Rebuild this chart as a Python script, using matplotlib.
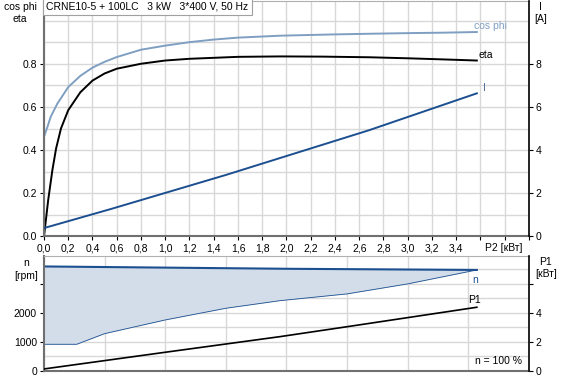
import numpy as np
import matplotlib.pyplot as plt

plt.rcParams['font.family'] = ['Liberation Sans', 'DejaVu Sans']
plt.rcParams['font.size'] = 7.5

# --- data ---
title = "CRNE10-5 + 100LC   3 kW   3*400 V, 50 Hz"

cos_p2 = [0.0, 0.03, 0.055, 0.11, 0.2, 0.3, 0.4, 0.5, 0.6, 0.8, 1.0, 1.2, 1.4,
          1.6, 1.95, 2.4, 2.69, 3.02, 3.3, 3.57]
cos_phi = [0.462, 0.51, 0.554, 0.615, 0.692, 0.744, 0.782, 0.809, 0.831, 0.865, 0.884,
           0.90, 0.912, 0.921, 0.93, 0.936, 0.939, 0.942, 0.944, 0.947]

eta_p2 = [0.0, 0.035, 0.07, 0.10, 0.14, 0.2, 0.3, 0.4, 0.5, 0.6, 0.8, 1.0, 1.2,
          1.6, 1.95, 2.3, 2.69, 3.02, 3.3, 3.57]
eta = [0.0, 0.17, 0.31, 0.408, 0.50, 0.585, 0.668, 0.722, 0.755, 0.777, 0.80, 0.815,
       0.823, 0.832, 0.834, 0.833, 0.830, 0.825, 0.82, 0.815]

i_p2 = [0.0, 0.55, 1.5, 2.68, 3.57]
current = [0.39, 1.27, 2.85, 4.92, 6.63]

nmax_p2 = [0.0, 1.0, 2.0, 3.57]
n_max = [3590, 3550, 3510, 3470]

nmin_p2 = [0.0, 0.27, 0.50, 1.0, 1.5, 1.95, 2.5, 3.0, 3.57]
n_min = [910, 910, 1276, 1748, 2150, 2414, 2645, 2990, 3470]

p1_p2 = [0.0, 1.0, 1.95, 2.5, 3.57]
p1 = [0.12, 1.27, 2.35, 3.03, 4.37]

top_xticks = [0.0, 0.2, 0.4, 0.6, 0.8, 1.0, 1.2, 1.4, 1.6, 1.8, 2.0,
              2.2, 2.4, 2.6, 2.8, 3.0, 3.2, 3.4, 3.6, 3.8, 4.0]

c_cos = '#7f9fc2'
c_blue = '#1c4f8f'
c_fill = '#d2dde9'
c_grid = '#d8d8d8'

fig = plt.figure(figsize=(5.61, 3.79), dpi=100)

# ---------------- top panel ----------------
ax = fig.add_axes([0.0784, 0.376, 0.8645, 0.621])
ax.set_xlim(0, 4.0)
ax.set_ylim(0, 1.09)
ax.set_xticks(top_xticks)
ax.set_xticklabels([f"{t:.1f}".replace('.', ',') if t < 3.5 else '' for t in top_xticks])
ax.set_yticks([0.0, 0.2, 0.4, 0.6, 0.8])
ax.set_yticklabels(['0.0', '0.2', '0.4', '0.6', '0.8'])
ax.set_yticks(np.arange(0, 1.09, 0.1), minor=True)
ax.grid(True, which='both', color=c_grid, lw=1.0)
ax.set_axisbelow(True)
ax.tick_params(which='minor', length=0)
ax.tick_params(length=3, pad=2)
for s in ['left', 'bottom']:
    ax.spines[s].set_color('#707070')
    ax.spines[s].set_linewidth(1.5)
ax.spines['top'].set_color('#b0b0b0')
ax.spines['right'].set_visible(False)

ax.plot(cos_p2, cos_phi, color=c_cos, lw=1.4)
ax.plot(eta_p2, eta, color='black', lw=1.4)

axr = ax.twinx()
axr.set_ylim(0, 10.9)
axr.set_yticks([0, 2, 4, 6, 8])
axr.tick_params(length=3, pad=2)
axr.spines['right'].set_color('black')
axr.spines['right'].set_linewidth(1.2)
for s in ['left', 'top', 'bottom']:
    axr.spines[s].set_visible(False)
axr.plot(i_p2, current, color=c_blue, lw=1.4)

ax.text(3.55, 0.975, 'cos phi', color=c_cos, va='center')
ax.text(3.58, 0.84, 'eta', color='black', va='center')
ax.text(3.62, 0.69, 'I', color='#4a6d96', va='center')
ax.annotate('P2 [кВт]', xy=(3.95, 0), xycoords=('data', 'axes fraction'),
            xytext=(0, -5), textcoords='offset points', ha='right', va='top')
ax.text(0.005, 0.997, title, transform=ax.transAxes, ha='left', va='top',
        bbox=dict(facecolor='white', edgecolor='#a0a0a0', pad=2.5, lw=0.8))

fig.text(0.036, 0.995, 'cos phi\neta', ha='center', va='top', linespacing=1.3)
fig.text(0.963, 0.995, 'I\n[A]', ha='center', va='top', linespacing=1.3)

# ---------------- bottom panel ----------------
bx = fig.add_axes([0.0784, 0.0219, 0.8645, 0.3034])
bx.set_xlim(0, 4.0)
bx.set_ylim(0, 3960)
bx.set_xticks(np.arange(0, 4.01, 0.5))
bx.set_xticklabels([])
bx.set_yticks([0, 1000, 2000, 3000])
bx.set_yticklabels(['0', '1000', '2000', ''])
bx.set_yticks(np.arange(0, 3600, 500), minor=True)
bx.grid(True, which='both', color=c_grid, lw=1.0)
bx.set_axisbelow(True)
bx.tick_params(which='minor', length=0)
bx.tick_params(axis='x', length=0)
bx.tick_params(axis='y', length=3, pad=2)
for s in ['left', 'bottom']:
    bx.spines[s].set_color('#707070')
    bx.spines[s].set_linewidth(1.5)
bx.spines['top'].set_color('#b0b0b0')
bx.spines['right'].set_visible(False)

grid_p2 = np.linspace(0, 3.57, 200)
upper = np.interp(grid_p2, nmax_p2, n_max)
lower = np.interp(grid_p2, nmin_p2, n_min)
bx.fill_between(grid_p2, lower, upper, color=c_fill, lw=0)
bx.plot(nmax_p2, n_max, color=c_blue, lw=1.5)
bx.plot(nmin_p2, n_min, color=c_blue, lw=0.6)

bxr = bx.twinx()
bxr.set_ylim(0, 7.92)
bxr.set_yticks([0, 2, 4, 6])
bxr.set_yticklabels(['0', '2', '4', ''])
bxr.tick_params(length=3, pad=2)
bxr.spines['right'].set_color('black')
bxr.spines['right'].set_linewidth(1.2)
for s in ['left', 'top', 'bottom']:
    bxr.spines[s].set_visible(False)
bxr.plot(p1_p2, p1, color='black', lw=1.2)

bx.text(3.53, 3130, 'n', color=c_blue, va='center')
bxr.text(3.50, 4.9, 'P1', color='black', va='center')
bx.text(0.985, 0.04, 'n = 100 %', transform=bx.transAxes, ha='right', va='bottom')

fig.text(0.047, 0.318, 'n\n[rpm]', ha='center', va='top', linespacing=1.3)
fig.text(0.973, 0.322, 'P1\n[кВт]', ha='center', va='top', linespacing=1.3)

fig.savefig('out.png', dpi=100)
